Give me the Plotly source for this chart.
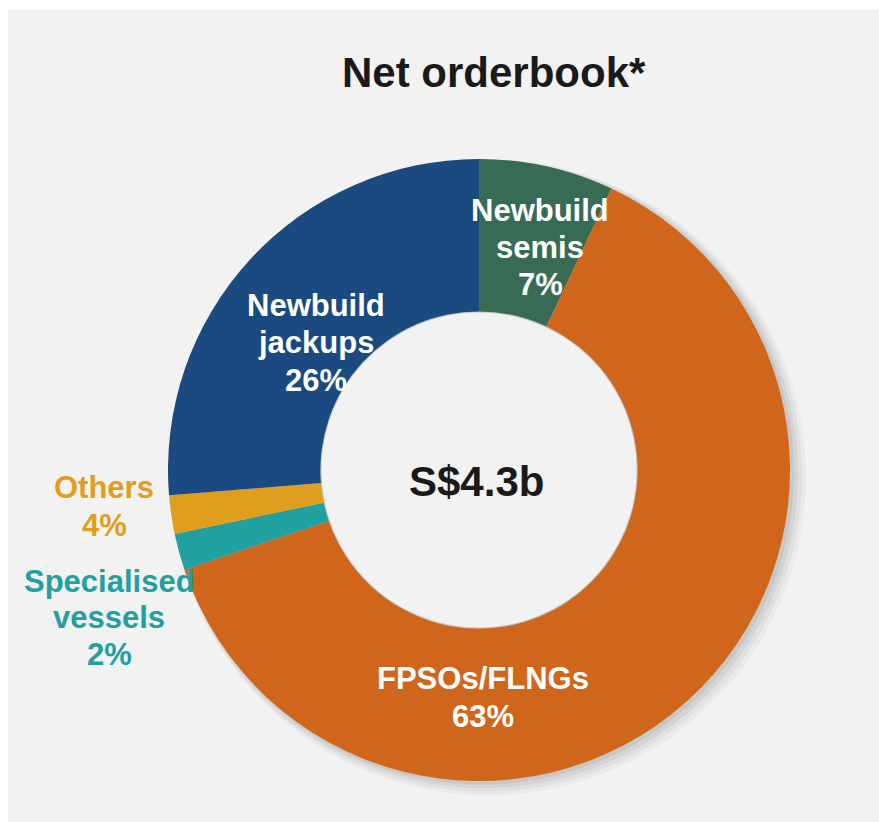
import plotly.graph_objects as go

W, H = 879, 822

categories = ["Newbuild semis", "FPSOs/FLNGs", "Specialised vessels", "Others", "Newbuild jackups"]
values = [7.0, 62.8, 1.9, 2.0, 26.3]
pct_labels = ["7%", "63%", "2%", "4%", "26%"]
colors = ["#386B53", "#D0661C", "#21A0A0", "#E09E1E", "#1A4A80"]
title_text = "Net orderbook*"
center_text = "S$4.3b"

FONT = "Liberation Sans, Arial, sans-serif"
BG = "#F2F2F2"

cx, cy, r = 479, 470, 311
hole = 0.51

def px(x):
    return x / W

def py(y):
    return 1 - y / H

fig = go.Figure()
fig.add_trace(go.Pie(
    labels=categories,
    values=values,
    sort=False,
    direction="clockwise",
    rotation=0,
    hole=hole,
    marker=dict(colors=colors, line=dict(width=0)),
    textinfo="none",
    hoverinfo="label+percent",
    showlegend=False,
    domain=dict(x=[px(cx - r), px(cx + r)], y=[py(cy + r), py(cy - r)]),
))

shapes = [
    dict(type="rect", xref="paper", yref="paper", x0=px(8), x1=1.01, y0=-0.01, y1=py(10),
         fillcolor=BG, line=dict(width=0), layer="below"),
]
# soft drop shadow behind donut
for off, grow, op in [(9, 7, 0.03), (7, 5, 0.04), (5, 3, 0.05), (3, 1, 0.06)]:
    shapes.append(dict(type="circle", xref="paper", yref="paper",
                       x0=px(cx - r - grow + off), x1=px(cx + r + grow + off),
                       y0=py(cy + r + grow + off * 0.8), y1=py(cy - r - grow + off * 0.8),
                       fillcolor="rgba(0,0,0,%.3f)" % op, line=dict(width=0), layer="below"))
# keep the hole clean (cover shadow showing through)
ri = r * hole - 1
shapes.append(dict(type="circle", xref="paper", yref="paper",
                   x0=px(cx - ri), x1=px(cx + ri), y0=py(cy + ri), y1=py(cy - ri),
                   fillcolor=BG, line=dict(width=0), layer="above"))

annotations = []

def ann(text, x, y, size, color):
    annotations.append(dict(text=text, x=px(x), y=py(y), xref="paper", yref="paper",
                            showarrow=False, xanchor="center", yanchor="middle",
                            font=dict(family=FONT, size=size, color=color)))

ann("<b>%s</b>" % title_text, 494, 72, 42, "#1A1A1A")
ann("<b>%s</b>" % center_text, 476, 481, 42, "#1A1A1A")

label_lines = [
    (["Newbuild", "semis", pct_labels[0]], 540, [210, 247, 284], "white"),
    (["Newbuild", "jackups", pct_labels[4]], 316, [305, 342, 380], "white"),
    (["FPSOs/FLNGs", pct_labels[1]], 483, [678, 716], "white"),
    (["Others", pct_labels[3]], 104, [487, 525], colors[3]),
    (["Specialised", "vessels", pct_labels[2]], 109, [581, 617, 654], colors[2]),
]
for lines, x, ys, col in label_lines:
    for t, y in zip(lines, ys):
        ann("<b>%s</b>" % t, x, y, 31, col)

fig.update_layout(
    width=W, height=H,
    margin=dict(l=0, r=0, t=0, b=0),
    paper_bgcolor="white",
    plot_bgcolor="white",
    shapes=shapes,
    annotations=annotations,
)

fig.write_html(
    "out.html",
    config={"displayModeBar": False},
    post_script="document.body.style.margin='0';document.documentElement.style.overflow='hidden';",
)
